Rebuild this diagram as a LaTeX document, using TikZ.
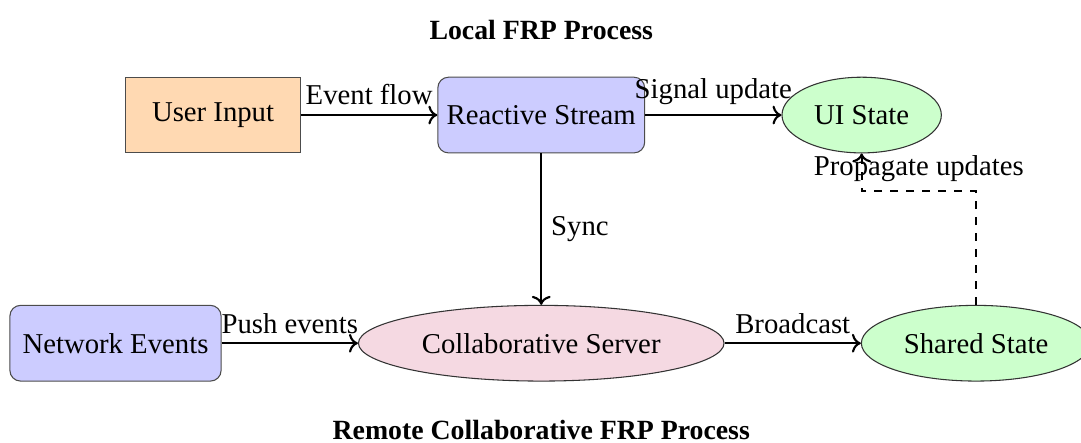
\documentclass[tikz,border=0pt]{standalone}
\IfFileExists{pplr8t.tfm}{\usepackage[T1]{fontenc}\usepackage{mathpazo}}{\usepackage{fontspec}\setmainfont{Liberation Serif}}
\usetikzlibrary{shapes.geometric,arrows.meta,positioning}

\begin{document}
\begin{tikzpicture}[
  font=\fontsize{10.8}{13}\selectfont,
  proc/.style={draw=black!70,fill=orange!30,minimum height=1cm,minimum width=2.31cm,align=center},
  stream/.style={draw=black!70,rounded corners=4pt,fill=blue!20,minimum height=1cm,minimum width=2.73cm,align=center},
  state/.style={draw=black!80,ellipse,fill=green!20,minimum height=1cm,minimum width=2.09cm,align=center},
  server/.style={draw=black!80,ellipse,fill=purple!15,minimum height=1cm,minimum width=4.83cm,align=center},
  flow/.style={->,thick},
  title/.style={font=\fontsize{10.45}{13}\selectfont\bfseries},
  node distance=2cm and 1.8cm,
]
  \useasboundingbox (-7.15,1.52) rectangle (7.13,-4.32);

  \node[title] (localtitle) at (0,1.12) {Local FRP Process};
  \node[stream] (rstream) at (0,0) {Reactive Stream};
  \node[proc,left=of rstream] (input) {User Input};
  \node[state,right=of rstream] (ui) {UI State};
  \node[server,below=of rstream] (collab) {Collaborative Server};
  \node[stream,left=of collab,minimum width=2.79cm] (net) {Network Events};
  \node[state,right=of collab,minimum width=2.88cm] (shared) {Shared State};
  \node[title] (remotetitle) at (0,-4.16) {Remote Collaborative FRP Process};

  \draw[flow] (input) -- node[above]{Event flow} (rstream);
  \draw[flow] (rstream) -- node[above]{Signal update} (ui);
  \draw[flow] (rstream) -- node[right]{Sync} (collab);
  \draw[flow] (net) -- node[above]{Push events} (collab);
  \draw[flow] (collab) -- node[above]{Broadcast} (shared);
  \draw[flow,dashed] (shared.north) -- ++(0,1.5) -| node[pos=0.25,above]{Propagate updates} (ui.south);
\end{tikzpicture}
\end{document}
